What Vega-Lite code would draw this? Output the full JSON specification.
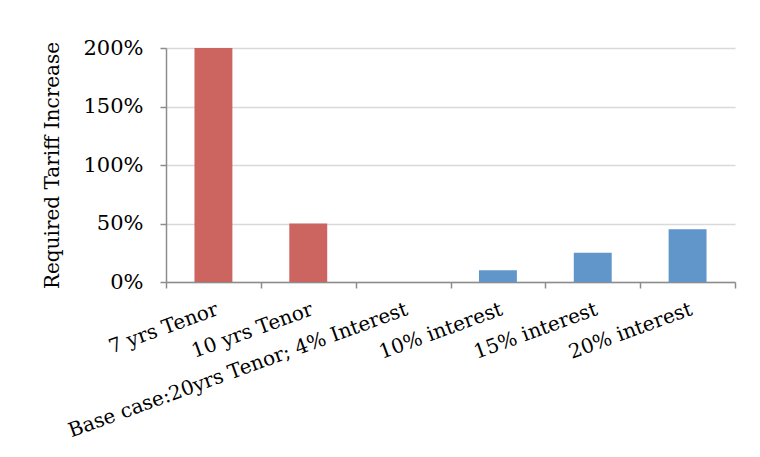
{
  "$schema": "https://vega.github.io/schema/vega-lite/v6.json",
  "width": 569,
  "height": 234,
  "autosize": {"type": "none"},
  "padding": {"left": 166, "top": 48, "right": 25, "bottom": 175},
  "background": "white",
  "config": {"view": {"stroke": null}, "font": "DejaVu Serif"},
  "data": {
    "values": [
      {"scenario": "7 yrs Tenor", "increase": 2.0, "group": "Tenor"},
      {"scenario": "10 yrs Tenor", "increase": 0.5, "group": "Tenor"},
      {"scenario": "Base case:20yrs Tenor; 4% Interest", "increase": 0, "group": "Tenor"},
      {"scenario": "10% interest", "increase": 0.10, "group": "Interest"},
      {"scenario": "15% interest", "increase": 0.25, "group": "Interest"},
      {"scenario": "20% interest", "increase": 0.45, "group": "Interest"}
    ]
  },
  "mark": {"type": "bar", "width": {"band": 0.4}},
  "encoding": {
    "x": {
      "field": "scenario",
      "type": "nominal",
      "sort": null,
      "scale": {"paddingInner": 0, "paddingOuter": 0},
      "axis": {
        "title": null,
        "labelAngle": -20,
        "labelAlign": "right",
        "labelBaseline": "top",
        "labelPadding": 11,
        "labelFontSize": 20,
        "labelColor": "black",
        "labelLimit": 0,
        "tickBand": "extent",
        "tickSize": 6,
        "tickWidth": 1.5,
        "tickColor": "#8c8c8c",
        "domainColor": "#8c8c8c",
        "domainWidth": 1.5,
        "grid": false
      }
    },
    "y": {
      "field": "increase",
      "type": "quantitative",
      "scale": {"domain": [0, 2]},
      "axis": {
        "values": [0, 0.5, 1, 1.5, 2],
        "format": "%",
        "title": "Required Tariff Increase",
        "titleFontSize": 20,
        "titleFontWeight": "normal",
        "titleColor": "black",
        "titlePadding": 20,
        "labelFontSize": 21,
        "labelColor": "black",
        "labelPadding": 17,
        "tickSize": 6,
        "tickWidth": 1.5,
        "tickColor": "#8c8c8c",
        "domainColor": "#8c8c8c",
        "domainWidth": 1.5,
        "gridColor": "#d9d9d9",
        "gridWidth": 1.5
      }
    },
    "color": {
      "field": "group",
      "type": "nominal",
      "scale": {"domain": ["Tenor", "Interest"], "range": ["#cc6560", "#6196ca"]},
      "legend": null
    }
  }
}
